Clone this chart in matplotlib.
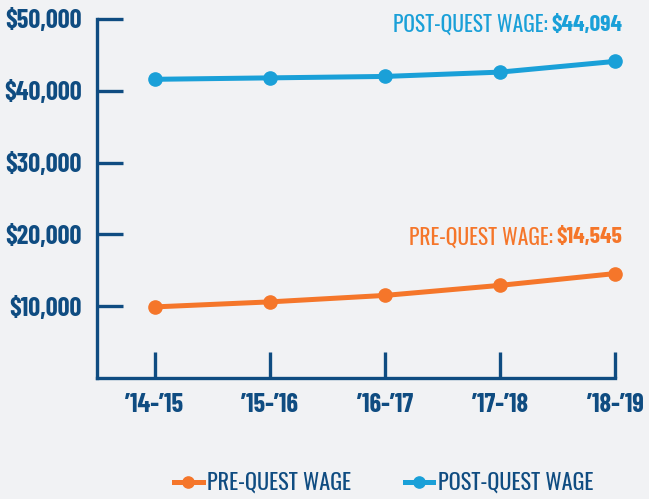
import matplotlib
matplotlib.use('Agg')
import matplotlib.pyplot as plt
from matplotlib import font_manager

# data
years = ["\u201914-\u201915", "\u201915-\u201916", "\u201916-\u201917", "\u201917-\u201918", "\u201918-\u201919"]
pre_wage = [9900, 10600, 11500, 12900, 14545]
post_wage = [41600, 41800, 42000, 42600, 44094]
y_ticks = [10000, 20000, 30000, 40000, 50000]

names = {f.name for f in font_manager.fontManager.ttflist}


def pick(*cands):
    for c in cands:
        if c in names:
            return c
    return 'DejaVu Sans'


bold_font = pick('Barlow Condensed', 'Roboto Condensed', 'Liberation Sans Narrow')
text_font = pick('Oswald', 'Barlow Condensed', 'Roboto Condensed')
plt.rcParams['font.family'] = [text_font, 'DejaVu Sans']

bg = '#f1f2f4'
navy = '#0f4c81'
orange = '#f5762a'
blue = '#1aa0d8'

fig = plt.figure(figsize=(6.49, 4.99), dpi=100, facecolor=bg)
ax = fig.add_axes([97 / 649, 121 / 499, 518 / 649, 359 / 499], facecolor=bg)

x = list(range(len(years)))
ax.plot(x, pre_wage, color=orange, lw=3.6, marker='o', ms=9.5, clip_on=False, label='PRE-QUEST WAGE')
ax.plot(x, post_wage, color=blue, lw=3.6, marker='o', ms=9.5, clip_on=False, label='POST-QUEST WAGE')

ax.set_xlim(-0.5, 4)
ax.set_ylim(0, 50000)
ax.set_xticks(x)
ax.set_xticklabels(years, family=[bold_font, 'DejaVu Sans'], fontweight='bold', fontsize=19)
ax.set_yticks(y_ticks)
ax.set_yticklabels(['${:,}'.format(v) for v in y_ticks], family=[bold_font, 'DejaVu Sans'],
                   fontweight='bold', fontsize=19)

for s in ['top', 'right']:
    ax.spines[s].set_visible(False)
for s in ['left', 'bottom']:
    ax.spines[s].set_color(navy)
    ax.spines[s].set_linewidth(2.4)
    ax.spines[s].set_capstyle('projecting')

ax.tick_params(axis='both', direction='in', length=19, width=2.4, color=navy,
               labelcolor=navy, pad=11)
ax.tick_params(axis='x', pad=11)


# end labels: plain name + bold value, right aligned at the last point
def end_label(y, name, value, color):
    t = ax.annotate(value, xy=(1.0, y), xycoords=('axes fraction', 'data'),
                    xytext=(5, 0), textcoords='offset points', family=[bold_font, 'DejaVu Sans'],
                    ha='right', va='center', fontsize=17, fontweight='bold', color=color)
    fig.canvas.draw()
    bb = t.get_window_extent()
    fig.text((bb.x0 - 3) / fig.dpi / fig.get_figwidth(),
             (bb.y0 + bb.y1) / 2 / fig.dpi / fig.get_figheight(),
             name, ha='right', va='center', fontsize=15.5, color=color)


end_label(49200, 'POST-QUEST WAGE:', '$44,094', blue)
end_label(19600, 'PRE-QUEST WAGE:', '$14,545', orange)

leg = fig.legend(loc='center', bbox_to_anchor=(0.591, 0.032), ncol=2, frameon=False,
                 fontsize=16, handlelength=1.3, columnspacing=2.4, handletextpad=0.2,
                 markerscale=0.85)
for t in leg.get_texts():
    t.set_color(navy)

fig.savefig('out.png', dpi=100, facecolor=bg)
